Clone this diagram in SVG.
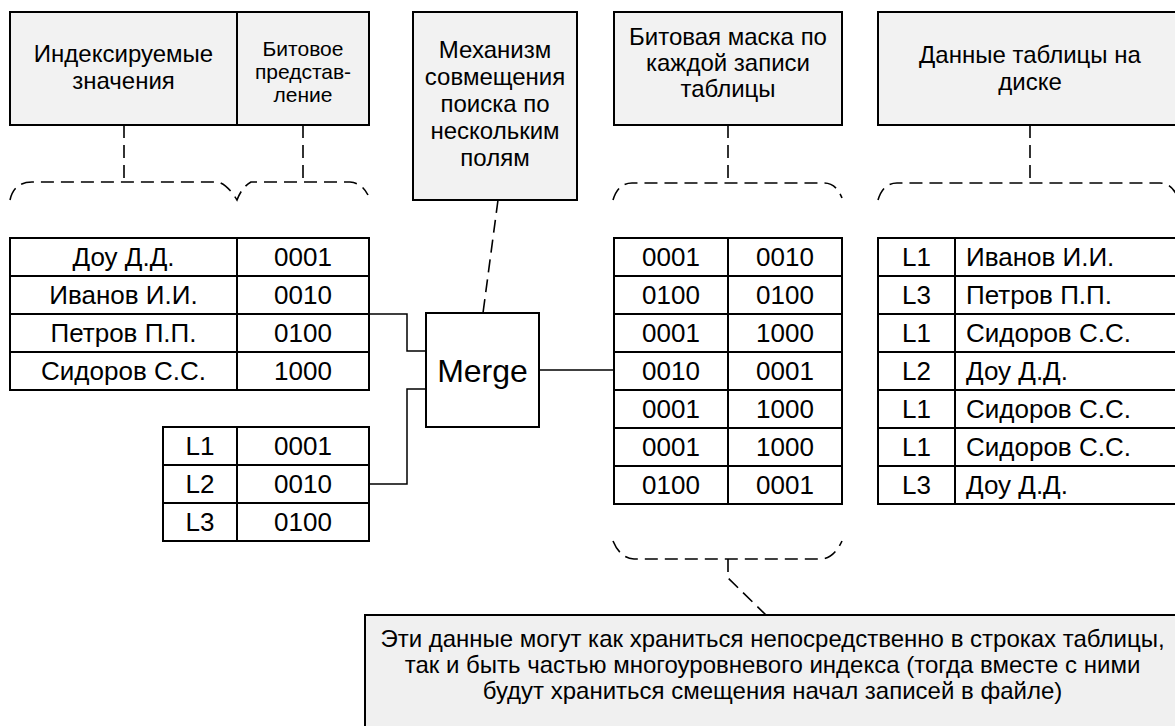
<svg xmlns="http://www.w3.org/2000/svg" width="1175" height="726" viewBox="0 0 1175 726">
<style>
text{font-family:"Liberation Sans",Arial,sans-serif;fill:#000}
.hdr{fill:#f2f2f2;stroke:#000;stroke-width:2}
.cell{fill:#fff;stroke:#000;stroke-width:2}
.ln{fill:none;stroke:#000;stroke-width:2}
.conn{fill:none;stroke:#000;stroke-width:1.5}
.dash{fill:none;stroke:#000;stroke-width:1.6;stroke-dasharray:13 7}
.h24{font-size:24px;text-anchor:middle}
.h21{font-size:21px;text-anchor:middle}
.t{font-size:26px;text-anchor:middle}
.tl{font-size:26px}
.m{font-size:32px;text-anchor:middle}
.n{font-size:24px;text-anchor:middle}
</style>

<g id="hdr-index">
<rect class="hdr" x="10" y="12" width="359" height="113"/>
<line class="ln" x1="237" y1="12" x2="237" y2="125"/>
<text class="h24" x="123.5" y="62">Индексируемые</text>
<text class="h24" x="123.5" y="89">значения</text>
<text class="h21" x="303" y="56">Битовое</text>
<text class="h21" x="303" y="79">представ-</text>
<text class="h21" x="303" y="102">ление</text>
</g>

<g id="hdr-merge">
<rect class="hdr" x="413" y="12" width="164" height="188"/>
<text class="h24" x="495" y="58">Механизм</text>
<text class="h24" x="495" y="85">совмещения</text>
<text class="h24" x="495" y="112">поиска по</text>
<text class="h24" x="495" y="139">нескольким</text>
<text class="h24" x="495" y="166">полям</text>
</g>

<g id="hdr-bitmask">
<rect class="hdr" x="614" y="12" width="228" height="113"/>
<text class="h24" x="728" y="45">Битовая маска по</text>
<text class="h24" x="728" y="71">каждой записи</text>
<text class="h24" x="728" y="97">таблицы</text>
</g>

<g id="hdr-data">
<rect class="hdr" x="878" y="12" width="310" height="113"/>
<text class="h24" x="1030" y="63">Данные таблицы на</text>
<text class="h24" x="1030" y="90">диске</text>
</g>

<g id="tbl-index">
<rect class="cell" x="10" y="238" width="359" height="152"/>
<line class="ln" x1="237" y1="238" x2="237" y2="390"/>
<line class="ln" x1="10" y1="276" x2="369" y2="276"/>
<line class="ln" x1="10" y1="314" x2="369" y2="314"/>
<line class="ln" x1="10" y1="352" x2="369" y2="352"/>
<text class="t" x="123.5" y="266">Доу Д.Д.</text>
<text class="t" x="303" y="266">0001</text>
<text class="t" x="123.5" y="304">Иванов И.И.</text>
<text class="t" x="303" y="304">0010</text>
<text class="t" x="123.5" y="342">Петров П.П.</text>
<text class="t" x="303" y="342">0100</text>
<text class="t" x="123.5" y="380">Сидоров С.С.</text>
<text class="t" x="303" y="380">1000</text>
</g>

<g id="tbl-level">
<rect class="cell" x="163" y="427" width="206" height="114"/>
<line class="ln" x1="237" y1="427" x2="237" y2="541"/>
<line class="ln" x1="163" y1="465" x2="369" y2="465"/>
<line class="ln" x1="163" y1="503" x2="369" y2="503"/>
<text class="t" x="200" y="455">L1</text>
<text class="t" x="303" y="455">0001</text>
<text class="t" x="200" y="493">L2</text>
<text class="t" x="303" y="493">0010</text>
<text class="t" x="200" y="531">L3</text>
<text class="t" x="303" y="531">0100</text>
</g>

<g id="merge">
<rect class="cell" x="426" y="313" width="113" height="114"/>
<text class="m" x="482.5" y="382">Merge</text>
</g>

<g id="tbl-bitmask">
<rect class="cell" x="614" y="238" width="228" height="266"/>
<line class="ln" x1="728" y1="238" x2="728" y2="504"/>
<line class="ln" x1="614" y1="276" x2="842" y2="276"/>
<line class="ln" x1="614" y1="314" x2="842" y2="314"/>
<line class="ln" x1="614" y1="352" x2="842" y2="352"/>
<line class="ln" x1="614" y1="390" x2="842" y2="390"/>
<line class="ln" x1="614" y1="428" x2="842" y2="428"/>
<line class="ln" x1="614" y1="466" x2="842" y2="466"/>
<text class="t" x="671" y="266">0001</text><text class="t" x="785" y="266">0010</text>
<text class="t" x="671" y="304">0100</text><text class="t" x="785" y="304">0100</text>
<text class="t" x="671" y="342">0001</text><text class="t" x="785" y="342">1000</text>
<text class="t" x="671" y="380">0010</text><text class="t" x="785" y="380">0001</text>
<text class="t" x="671" y="418">0001</text><text class="t" x="785" y="418">1000</text>
<text class="t" x="671" y="456">0001</text><text class="t" x="785" y="456">1000</text>
<text class="t" x="671" y="494">0100</text><text class="t" x="785" y="494">0001</text>
</g>

<g id="tbl-data">
<rect class="cell" x="878" y="238" width="310" height="266"/>
<line class="ln" x1="955" y1="238" x2="955" y2="504"/>
<line class="ln" x1="878" y1="276" x2="1188" y2="276"/>
<line class="ln" x1="878" y1="314" x2="1188" y2="314"/>
<line class="ln" x1="878" y1="352" x2="1188" y2="352"/>
<line class="ln" x1="878" y1="390" x2="1188" y2="390"/>
<line class="ln" x1="878" y1="428" x2="1188" y2="428"/>
<line class="ln" x1="878" y1="466" x2="1188" y2="466"/>
<text class="t" x="916.5" y="266">L1</text><text class="tl" x="966" y="266">Иванов И.И.</text>
<text class="t" x="916.5" y="304">L3</text><text class="tl" x="966" y="304">Петров П.П.</text>
<text class="t" x="916.5" y="342">L1</text><text class="tl" x="966" y="342">Сидоров С.С.</text>
<text class="t" x="916.5" y="380">L2</text><text class="tl" x="966" y="380">Доу Д.Д.</text>
<text class="t" x="916.5" y="418">L1</text><text class="tl" x="966" y="418">Сидоров С.С.</text>
<text class="t" x="916.5" y="456">L1</text><text class="tl" x="966" y="456">Сидоров С.С.</text>
<text class="t" x="916.5" y="494">L3</text><text class="tl" x="966" y="494">Доу Д.Д.</text>
</g>

<g id="note">
<rect class="hdr" x="365" y="615" width="820" height="130" style="fill:#f0f0f0"/>
<text class="n" x="772.5" y="647">Эти данные могут как храниться непосредственно в строках таблицы,</text>
<text class="n" x="772.5" y="673">так и быть частью многоуровневого индекса (тогда вместе с ними</text>
<text class="n" x="772.5" y="699">будут храниться смещения начал записей в файле)</text>
</g>

<g id="connectors">
<path class="conn" d="M369,314 H407 V351 H426"/>
<path class="conn" d="M369,484 H407 V389 H426"/>
<path class="conn" d="M539,370 H614"/>
<path class="dash" d="M124,125 V182"/>
<path class="dash" d="M303,125 V182"/>
<path class="dash" d="M10,200 Q14,182 32,182 H218 Q227,184 237,200 Q242,187 251,182 H350 Q362,183 368,195"/>
<path class="dash" d="M728,125 V183"/>
<path class="dash" d="M613,200 Q618,183 632,183 H824 Q836,183 842,198"/>
<path class="dash" d="M1030,125 V183"/>
<path class="dash" d="M878,200 Q883,183 897,183 H1160 Q1172,183 1178,198"/>
<path class="dash" d="M498,200 L483,313"/>
<path class="dash" d="M613,541 Q620,558 634,559 H822 Q834,558 842,541"/>
<path class="dash" d="M728,559 V578 L766,615"/>
</g>
</svg>
